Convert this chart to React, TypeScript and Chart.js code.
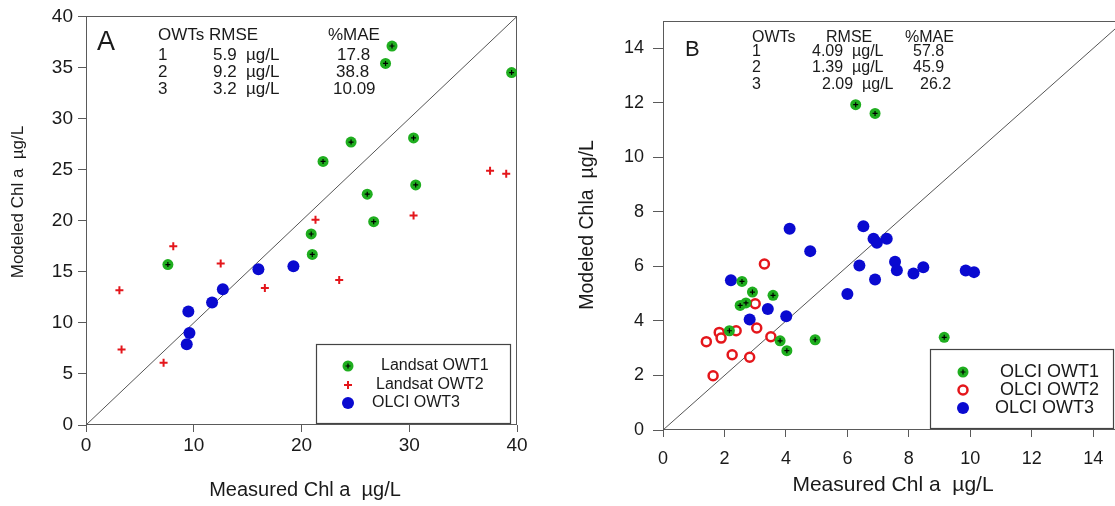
import React, { useEffect, useRef } from "react";
import { Chart, registerables } from "chart.js";
Chart.register(...registerables);

const FONT = "'Liberation Sans', Arial, Helvetica, sans-serif";
const GREEN = "#1fae1f";
const RED = "#e4161b";
const BLUE = "#0a0ad0";
const FRAME = "#5a5a5a";
const TEXT = "#1a1a1a";

// ---------- Panel A data ----------
const A_OWT1_X = [28.4, 27.8, 39.5, 22.0, 24.6, 30.4, 26.1, 30.6, 26.7, 20.9, 21.0, 7.6];
const A_OWT1_Y = [37.1, 35.4, 34.5, 25.8, 27.7, 28.1, 22.6, 23.5, 19.9, 18.7, 16.7, 15.7];
const A_OWT2_X = [8.1, 21.3, 30.4, 37.5, 39.0, 3.1, 3.3, 7.2, 12.5, 16.6, 23.5];
const A_OWT2_Y = [17.5, 20.1, 20.5, 24.9, 24.6, 13.2, 7.4, 6.1, 15.8, 13.4, 14.2];
const A_OWT3_X = [9.5, 9.6, 9.35, 11.7, 12.7, 16.0, 19.25];
const A_OWT3_Y = [11.1, 9.0, 7.9, 12.0, 13.3, 15.25, 15.55];
const A_DIAG = [0, 40];
const A_XTICKS = [0, 10, 20, 30, 40];
const A_YTICKS = [0, 5, 10, 15, 20, 25, 30, 35, 40];
const A_LEGEND = ["Landsat OWT1", "Landsat OWT2", "OLCI OWT3"];
const A_STATS_HEAD = ["OWTs", "RMSE", "%MAE"];
const A_STATS_OWT = ["1", "2", "3"];
const A_STATS_RMSE = ["5.9  µg/L", "9.2  µg/L", "3.2  µg/L"];
const A_STATS_MAE = ["17.8", "38.8", "10.09"];
const A_XTITLE = "Measured Chl a  µg/L";
const A_YTITLE = "Modeled Chl a  µg/L";

// ---------- Panel B data ----------
const B_OWT1_X = [6.27, 6.9, 2.57, 2.91, 3.58, 2.7, 2.51, 2.16, 3.81, 4.03, 4.95, 9.15];
const B_OWT1_Y = [11.93, 11.61, 5.45, 5.06, 4.94, 4.66, 4.57, 3.64, 3.27, 2.91, 3.31, 3.4];
const B_OWT2_X = [3.3, 3.0, 1.83, 1.89, 1.41, 2.38, 3.05, 3.51, 2.25, 2.82, 1.63];
const B_OWT2_Y = [6.09, 4.63, 3.58, 3.37, 3.24, 3.64, 3.74, 3.42, 2.76, 2.67, 1.99];
const B_OWT3_X = [4.12, 6.52, 4.79, 6.85, 6.96, 7.28, 2.21, 6.39, 7.55, 7.61, 8.15, 8.47, 9.85, 10.12, 6.9, 6.0, 3.41, 2.82, 4.01];
const B_OWT3_Y = [7.38, 7.47, 6.56, 7.01, 6.87, 7.01, 5.49, 6.03, 6.17, 5.86, 5.74, 5.97, 5.85, 5.79, 5.52, 4.99, 4.44, 4.05, 4.17];
const B_DIAG = [0, 15];
const B_XTICKS = [0, 2, 4, 6, 8, 10, 12, 14];
const B_YTICKS = [0, 2, 4, 6, 8, 10, 12, 14];
const B_LEGEND = ["OLCI OWT1", "OLCI OWT2", "OLCI OWT3"];
const B_STATS_HEAD = ["OWTs", "RMSE", "%MAE"];
const B_STATS_OWT = ["1", "2", "3"];
const B_STATS_RMSE = ["4.09  µg/L", "1.39  µg/L", "2.09  µg/L"];
const B_STATS_MAE = ["57.8", "45.9", "26.2"];
const B_XTITLE = "Measured Chl a  µg/L";
const B_YTITLE = "Modeled Chla  µg/L";

const pts = (xs: number[], ys: number[]) => xs.map((x, i) => ({ x, y: ys[i] }));

type Kind = "greenDot" | "redPlus" | "blueDot" | "redRing";

function drawMark(ctx: CanvasRenderingContext2D, kind: Kind, x: number, y: number) {
  ctx.save();
  if (kind === "greenDot") {
    ctx.fillStyle = GREEN;
    ctx.beginPath();
    ctx.arc(x, y, 5.5, 0, Math.PI * 2);
    ctx.fill();
    ctx.strokeStyle = "#000";
    ctx.lineWidth = 1.2;
    ctx.beginPath();
    ctx.moveTo(x - 2.5, y);
    ctx.lineTo(x + 2.5, y);
    ctx.moveTo(x, y - 2.5);
    ctx.lineTo(x, y + 2.5);
    ctx.stroke();
  } else if (kind === "redPlus") {
    ctx.strokeStyle = RED;
    ctx.lineWidth = 2;
    ctx.beginPath();
    ctx.moveTo(x - 4, y);
    ctx.lineTo(x + 4, y);
    ctx.moveTo(x, y - 4);
    ctx.lineTo(x, y + 4);
    ctx.stroke();
  } else if (kind === "blueDot") {
    ctx.fillStyle = BLUE;
    ctx.beginPath();
    ctx.arc(x, y, 6, 0, Math.PI * 2);
    ctx.fill();
  } else {
    ctx.fillStyle = "#fff";
    ctx.strokeStyle = RED;
    ctx.lineWidth = 2.5;
    ctx.beginPath();
    ctx.arc(x, y, 4.5, 0, Math.PI * 2);
    ctx.fill();
    ctx.stroke();
  }
  ctx.restore();
}

type Spec = {
  left: number;
  width: number;
  area: { l: number; t: number; r: number; b: number };
  range: number[];
  xTicks: number[];
  yTicks: number[];
  datasets: any[];
  tickFont: number;
  xTick: { len: number; pad: number };
  yTick: { len: number; pad: number };
  letter: { text: string; size: number; x: number; y: number };
  stats: {
    size: number;
    head: string[];
    headX: number[];
    headY: number;
    rowsY: number[];
    owt: string[];
    owtX: number;
    rmse: string[];
    rmseX: number[];
    mae: string[];
    maeX: number[];
  };
  legend: {
    box: { l: number; t: number; r: number; b: number };
    size: number;
    labels: string[];
    kinds: Kind[];
    markX: number;
    rowsY: number[];
    textX: number[];
  };
  xTitle: { text: string; size: number; x: number; y: number };
  yTitle: { text: string; size: number; x: number; y: number };
};

function decorPlugin(p: Spec) {
  return {
    id: "decor" + p.letter.text,
    beforeDatasetsDraw(chart: any) {
      const { ctx, chartArea } = chart;
      ctx.save();
      ctx.strokeStyle = FRAME;
      ctx.lineWidth = 1;
      const l = Math.round(chartArea.left) + 0.5;
      const t = Math.round(chartArea.top) + 0.5;
      const r = Math.round(chartArea.right) - 0.5;
      const b = Math.round(chartArea.bottom) - 0.5;
      ctx.strokeRect(l, t, r - l, b - t);
      ctx.restore();
    },
    afterDraw(chart: any) {
      const ctx: CanvasRenderingContext2D = chart.ctx;
      ctx.save();
      ctx.translate(-p.left, 0);
      ctx.fillStyle = TEXT;
      ctx.textBaseline = "middle";

      // panel letter
      ctx.textAlign = "left";
      ctx.font = `${p.letter.size}px ${FONT}`;
      ctx.fillText(p.letter.text, p.letter.x, p.letter.y);

      // stats table
      const s = p.stats;
      ctx.font = `${s.size}px ${FONT}`;
      s.head.forEach((h, i) => ctx.fillText(h, s.headX[i], s.headY));
      s.rowsY.forEach((y, i) => {
        ctx.fillText(s.owt[i], s.owtX, y);
        ctx.fillText(s.rmse[i], s.rmseX[i], y);
        ctx.fillText(s.mae[i], s.maeX[i], y);
      });

      // legend
      const lg = p.legend;
      ctx.fillStyle = "#fff";
      ctx.fillRect(lg.box.l, lg.box.t, lg.box.r - lg.box.l, lg.box.b - lg.box.t);
      ctx.strokeStyle = "#444";
      ctx.lineWidth = 1.2;
      ctx.strokeRect(lg.box.l + 0.5, lg.box.t + 0.5, lg.box.r - lg.box.l, lg.box.b - lg.box.t);
      ctx.font = `${lg.size}px ${FONT}`;
      lg.labels.forEach((lab, i) => {
        drawMark(ctx, lg.kinds[i], lg.markX, lg.rowsY[i]);
        ctx.fillStyle = TEXT;
        ctx.fillText(lab, lg.textX[i], lg.rowsY[i]);
      });

      // axis titles
      ctx.fillStyle = TEXT;
      ctx.textAlign = "center";
      ctx.font = `${p.xTitle.size}px ${FONT}`;
      ctx.fillText(p.xTitle.text, p.xTitle.x, p.xTitle.y);
      ctx.save();
      ctx.translate(p.yTitle.x, p.yTitle.y);
      ctx.rotate(-Math.PI / 2);
      ctx.font = `${p.yTitle.size}px ${FONT}`;
      ctx.fillText(p.yTitle.text, 0, 0);
      ctx.restore();

      ctx.restore();
    },
  };
}

function buildConfig(p: Spec): any {
  const H = 506;
  const axis = (horizontal: boolean) => {
    const tk = horizontal ? p.xTick : p.yTick;
    const values = horizontal ? p.xTicks : p.yTicks;
    return {
      type: "linear",
      min: p.range[0],
      max: p.range[1],
      afterBuildTicks: (sc: any) => {
        sc.ticks = values.map((v) => ({ value: v }));
      },
      afterFit: (sc: any) => {
        if (horizontal) sc.height = H - p.area.b;
        else sc.width = p.area.l - p.left;
      },
      grid: {
        drawOnChartArea: false,
        drawTicks: true,
        tickLength: tk.len,
        tickColor: FRAME,
        tickWidth: 1,
        lineWidth: 1,
      },
      border: { display: false },
      ticks: {
        font: { family: FONT, size: p.tickFont },
        color: TEXT,
        padding: tk.pad,
        maxRotation: 0,
        autoSkip: false,
      },
      title: { display: false },
    };
  };
  return {
    type: "scatter",
    data: { datasets: p.datasets },
    options: {
      responsive: false,
      maintainAspectRatio: false,
      animation: false,
      events: [],
      layout: {
        padding: { left: 0, top: p.area.t, right: p.width - (p.area.r - p.left), bottom: 0 },
      },
      plugins: {
        legend: { display: false },
        tooltip: { enabled: false },
        title: { display: false },
      },
      scales: { x: axis(true), y: axis(false) },
    },
    plugins: [decorPlugin(p)],
  };
}

const diagSet = (d: number[]) => ({
  data: pts(d, d),
  showLine: true,
  borderColor: "#555",
  borderWidth: 1,
  pointRadius: 0,
  order: 10,
});
const greenSet = (xs: number[], ys: number[]) => ({
  data: pts(xs, ys),
  pointStyle: "circle",
  pointRadius: 5.5,
  pointBackgroundColor: GREEN,
  pointBorderWidth: 0,
  pointBorderColor: GREEN,
  order: 3,
});
const greenCrossSet = (xs: number[], ys: number[]) => ({
  data: pts(xs, ys),
  pointStyle: "cross",
  pointRadius: 2.5,
  pointBorderColor: "#000",
  pointBorderWidth: 1.2,
  order: 2,
});

const SPEC_A: Spec = {
  left: 0,
  width: 565,
  area: { l: 86, t: 16, r: 517, b: 425 },
  range: [0, 40],
  xTicks: A_XTICKS,
  yTicks: A_YTICKS,
  datasets: [
    diagSet(A_DIAG),
    {
      data: pts(A_OWT3_X, A_OWT3_Y),
      pointStyle: "circle",
      pointRadius: 6,
      pointBackgroundColor: BLUE,
      pointBorderWidth: 0,
      pointBorderColor: BLUE,
      order: 5,
    },
    {
      data: pts(A_OWT2_X, A_OWT2_Y),
      pointStyle: "cross",
      pointRadius: 4,
      pointBorderColor: RED,
      pointBorderWidth: 2,
      order: 4,
    },
    greenSet(A_OWT1_X, A_OWT1_Y),
    greenCrossSet(A_OWT1_X, A_OWT1_Y),
  ],
  tickFont: 19,
  xTick: { len: 7, pad: 2 },
  yTick: { len: 8, pad: 5 },
  letter: { text: "A", size: 27, x: 97, y: 43 },
  stats: {
    size: 17,
    head: A_STATS_HEAD,
    headX: [158, 209, 328],
    headY: 35,
    rowsY: [55, 72, 89],
    owt: A_STATS_OWT,
    owtX: 158,
    rmse: A_STATS_RMSE,
    rmseX: [213, 213, 213],
    mae: A_STATS_MAE,
    maeX: [337, 336, 333],
  },
  legend: {
    box: { l: 316, t: 344, r: 510, b: 423 },
    size: 16,
    labels: A_LEGEND,
    kinds: ["greenDot", "redPlus", "blueDot"],
    markX: 348,
    rowsY: [366, 385, 403],
    textX: [381, 376, 372],
  },
  xTitle: { text: A_XTITLE, size: 20, x: 305, y: 490 },
  yTitle: { text: A_YTITLE, size: 17, x: 18, y: 202 },
};

const SPEC_B: Spec = {
  left: 565,
  width: 580,
  area: { l: 663, t: 21, r: 1124, b: 430 },
  range: [0, 15],
  xTicks: B_XTICKS,
  yTicks: B_YTICKS,
  datasets: [
    diagSet(B_DIAG),
    {
      data: pts(B_OWT3_X, B_OWT3_Y),
      pointStyle: "circle",
      pointRadius: 6,
      pointBackgroundColor: BLUE,
      pointBorderWidth: 0,
      pointBorderColor: BLUE,
      order: 5,
    },
    {
      data: pts(B_OWT2_X, B_OWT2_Y),
      pointStyle: "circle",
      pointRadius: 4.5,
      pointBackgroundColor: "#fff",
      pointBorderColor: RED,
      pointBorderWidth: 2.5,
      order: 4,
    },
    greenSet(B_OWT1_X, B_OWT1_Y),
    greenCrossSet(B_OWT1_X, B_OWT1_Y),
  ],
  tickFont: 18,
  xTick: { len: 7, pad: 11 },
  yTick: { len: 10, pad: 9 },
  letter: { text: "B", size: 22, x: 685, y: 49.5 },
  stats: {
    size: 16,
    head: B_STATS_HEAD,
    headX: [752, 826, 905],
    headY: 38,
    rowsY: [52, 68, 84.5],
    owt: B_STATS_OWT,
    owtX: 752,
    rmse: B_STATS_RMSE,
    rmseX: [812, 812, 822],
    mae: B_STATS_MAE,
    maeX: [913, 913, 920],
  },
  legend: {
    box: { l: 930, t: 349, r: 1113, b: 428 },
    size: 18,
    labels: B_LEGEND,
    kinds: ["greenDot", "redRing", "blueDot"],
    markX: 963,
    rowsY: [372, 390, 408],
    textX: [1000, 1000, 995],
  },
  xTitle: { text: B_XTITLE, size: 21, x: 893, y: 485 },
  yTitle: { text: B_YTITLE, size: 19.5, x: 588, y: 225 },
};

function Panel({ spec }: { spec: Spec }) {
  const ref = useRef<HTMLCanvasElement>(null);
  useEffect(() => {
    if (!ref.current) return;
    const chart = new Chart(ref.current, buildConfig(spec));
    return () => chart.destroy();
  }, [spec]);
  return (
    <canvas
      ref={ref}
      width={spec.width}
      height={506}
      style={{ position: "absolute", left: spec.left, top: 0, width: spec.width, height: 506, display: "block" }}
    />
  );
}

export default function App() {
  return (
    <div
      style={{
        position: "absolute",
        left: 0,
        top: 0,
        width: 1115,
        height: 506,
        overflow: "hidden",
        background: "#fff",
      }}
    >
      <Panel spec={SPEC_A} />
      <Panel spec={SPEC_B} />
    </div>
  );
}
